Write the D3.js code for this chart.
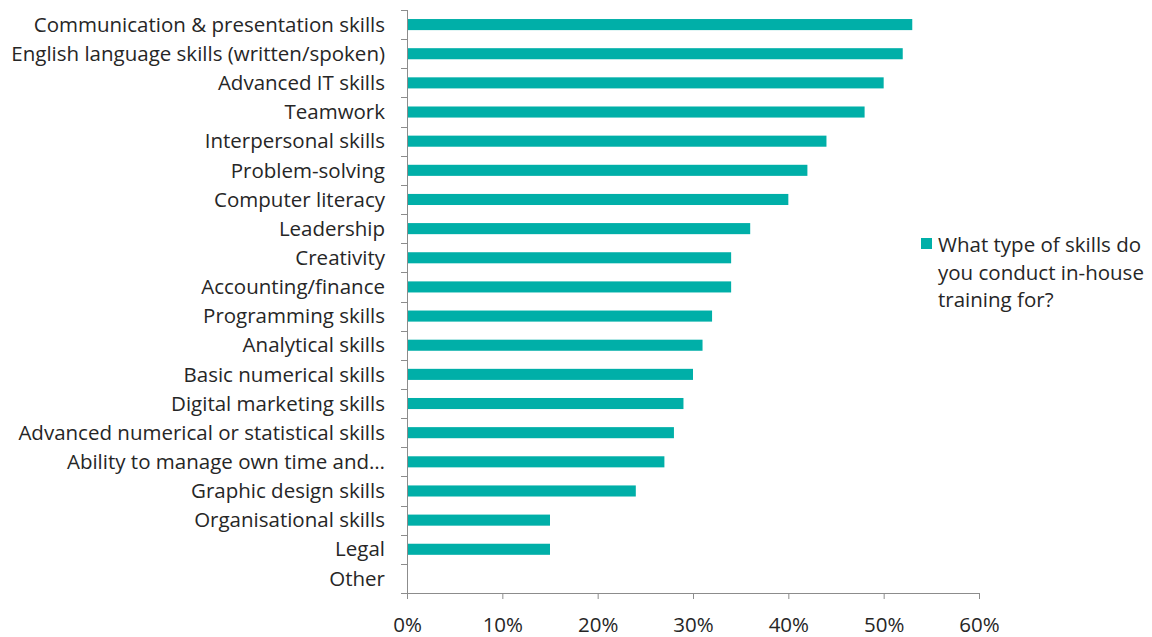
<!DOCTYPE html>
<html>
<head>
<meta charset="utf-8">
<script src="https://cdn.jsdelivr.net/npm/d3@7"></script>
<style>
  html, body { margin: 0; padding: 0; background: #fff; }
  svg text { font-family: "Open Sans", Lato, sans-serif; fill: #262626; }
</style>
</head>
<body>
<svg id="chart" width="1152" height="637"></svg>
<script>
// Skills for which in-house training is conducted (share of respondents)
const categories = [
  "Communication & presentation skills",
  "English language skills (written/spoken)",
  "Advanced IT skills",
  "Teamwork",
  "Interpersonal skills",
  "Problem-solving",
  "Computer literacy",
  "Leadership",
  "Creativity",
  "Accounting/finance",
  "Programming skills",
  "Analytical skills",
  "Basic numerical skills",
  "Digital marketing skills",
  "Advanced numerical or statistical skills",
  "Ability to manage own time and…",
  "Graphic design skills",
  "Organisational skills",
  "Legal",
  "Other"
];
const values = [0.53, 0.52, 0.50, 0.48, 0.44, 0.42, 0.40, 0.36, 0.34, 0.34,
                0.32, 0.31, 0.30, 0.29, 0.28, 0.27, 0.24, 0.15, 0.15, 0.00];
const tickValues = [0, 0.1, 0.2, 0.3, 0.4, 0.5, 0.6];
const seriesName = ["What type of skills do", "you conduct in-house", "training for?"];

const barColor = "#00AFA8";
const axisColor = "#8c8c8c";

const svg = d3.select("#chart");
const margin = { left: 407, top: 10, plotRight: 979, bottom: 593 };

const x = d3.scaleLinear().domain([0, 0.6]).range([margin.left, margin.plotRight]);
const y = d3.scaleBand().domain(categories).range([margin.top, margin.bottom]).paddingInner(0.62).paddingOuter(0.31);
const yTicks = d3.scaleBand().domain(categories).range([margin.top, margin.bottom]);

// bars
svg.append("g").selectAll("rect")
  .data(categories.map((c, i) => ({ c, v: values[i] })))
  .join("rect")
  .attr("x", x(0))
  .attr("y", d => y(d.c))
  .attr("width", d => x(d.v) - x(0))
  .attr("height", y.bandwidth())
  .attr("fill", barColor);

// vertical category axis with tick marks between categories
const yAxis = svg.append("g");
yAxis.append("line")
  .attr("x1", x(0) + 0.5).attr("x2", x(0) + 0.5)
  .attr("y1", margin.top).attr("y2", margin.bottom)
  .attr("stroke", axisColor);
yAxis.selectAll("line.tick")
  .data(categories)
  .join("line")
  .attr("class", "tick")
  .attr("x1", x(0) - 6).attr("x2", x(0) + 0.5)
  .attr("y1", d => Math.round(yTicks(d)) + 0.5)
  .attr("y2", d => Math.round(yTicks(d)) + 0.5)
  .attr("stroke", axisColor);
yAxis.append("line")
  .attr("x1", x(0) - 6).attr("x2", x(0) + 0.5)
  .attr("y1", margin.bottom + 0.5).attr("y2", margin.bottom + 0.5)
  .attr("stroke", axisColor);
yAxis.selectAll("text")
  .data(categories)
  .join("text")
  .attr("x", 385)
  .attr("y", d => yTicks(d) + yTicks.bandwidth() / 2)
  .attr("dy", "0.35em")
  .attr("text-anchor", "end")
  .style("font-size", "20.5px")
  .text(d => d);

// horizontal value axis
const xAxis = svg.append("g").attr("transform", `translate(0,${margin.bottom})`)
  .call(d3.axisBottom(x).tickValues(tickValues).tickFormat(d3.format(".0%")).tickSize(6).tickPadding(18));
xAxis.select(".domain").attr("stroke", axisColor).attr("d", `M${x(0)},0.5H${x(0.6)}`);
xAxis.selectAll(".tick line").attr("stroke", axisColor);
xAxis.selectAll(".tick text").style("font-size", "20.5px").attr("fill", "#262626");

// legend
const legend = svg.append("g").attr("transform", "translate(921,238)");
legend.append("rect").attr("width", 11).attr("height", 11).attr("fill", barColor);
legend.selectAll("text")
  .data(seriesName)
  .join("text")
  .attr("x", 17)
  .attr("y", (d, i) => 14 + i * 27.5)
  .style("font-size", "20.5px")
  .text(d => d);
</script>
</body>
</html>
